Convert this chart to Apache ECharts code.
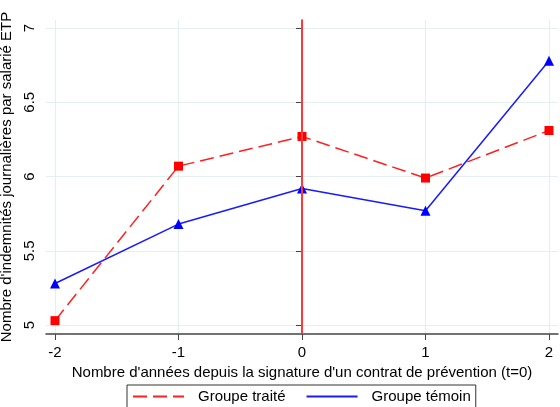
<!DOCTYPE html>
<html>
<head>
<meta charset="utf-8">
<script src="https://cdn.jsdelivr.net/npm/echarts@6/dist/echarts.min.js"></script>
<style>
  html, body { margin: 0; padding: 0; background: #fff; }
  #chart { width: 560px; height: 407px; }
</style>
</head>
<body>
<div id="chart"></div>
<script>
// Years relative to the signature of the prevention contract (t=0)
const years = [-2, -1, 0, 1, 2];
// Daily allowances per FTE employee
const treated = [5.03, 6.07, 6.27, 5.99, 6.31];
const control = [5.28, 5.68, 5.92, 5.77, 6.78];
// Axis ticks
const xTicks = [-2, -1, 0, 1, 2];
const yTicks = [5, 5.5, 6, 6.5, 7];
const eventYear = 0;

const FONT = '"Liberation Sans", Arial, sans-serif';
const gridColor = '#e6eff0';
const axisColor = '#444';

const chart = echarts.init(document.getElementById('chart'), null, { renderer: 'canvas' });

chart.setOption({
  animation: false,
  textStyle: { fontFamily: FONT },
  grid: { left: 46, right: 2, top: 20, bottom: 73, containLabel: false, outerBoundsMode: 'none' },
  xAxis: {
    type: 'value',
    min: -2.073,
    max: 2.073,
    name: "Nombre d'années depuis la signature d'un contrat de prévention (t=0)",
    nameLocation: 'middle',
    nameGap: 24,
    nameTextStyle: { color: '#000', fontSize: 15, fontFamily: FONT },
    axisLine: { show: true, onZero: false, lineStyle: { color: axisColor, width: 1.5 } },
    axisTick: { show: true, length: 6, customValues: xTicks, lineStyle: { color: axisColor } },
    axisLabel: { customValues: xTicks, color: '#000', fontSize: 15, margin: 11, fontFamily: FONT },
    splitLine: { show: true, lineStyle: { color: gridColor, width: 1.2 } }
  },
  yAxis: {
    type: 'value',
    min: 4.94,
    max: 7.054,
    name: "Nombre d'indemnités journalières par salarié ETP",
    nameLocation: 'middle',
    nameRotate: 90,
    nameGap: 26,
    nameTextStyle: { color: '#000', fontSize: 15, fontFamily: FONT },
    axisLine: { show: true, lineStyle: { color: axisColor, width: 1.5 } },
    axisTick: { show: true, length: 6, customValues: yTicks, lineStyle: { color: axisColor } },
    axisLabel: {
      customValues: yTicks, rotate: 90, color: '#000', fontSize: 15, margin: 9, fontFamily: FONT,
      formatter: v => String(v)
    },
    splitLine: { show: true, lineStyle: { color: gridColor, width: 1.2 } }
  },
  legend: {
    left: 127,
    top: 385,
    padding: [4, 5, 4, 5],
    itemWidth: 51,
    itemHeight: 12,
    itemGap: 20,
    borderColor: '#333',
    borderWidth: 1,
    borderRadius: 0,
    itemStyle: { opacity: 0 },
    textStyle: { color: '#000', fontSize: 15, fontFamily: FONT, padding: [0, 0, 0, 9] },
    data: ['Groupe traité', 'Groupe témoin']
  },
  series: [
    {
      name: 'Groupe traité',
      type: 'line',
      data: years.map((x, i) => [x, treated[i]]),
      symbol: 'rect',
      symbolSize: 9,
      itemStyle: { color: '#ff0000' },
      lineStyle: { color: '#ff2020', width: 1.5, type: [14, 6] },
      z: 3,
      markLine: {
        silent: true,
        symbol: 'none',
        label: { show: false },
        lineStyle: { color: '#ff3838', width: 2, type: 'solid', opacity: 1 },
        emphasis: { disabled: true },
        data: [{ xAxis: eventYear }]
      }
    },
    {
      name: 'Groupe témoin',
      type: 'line',
      data: years.map((x, i) => [x, control[i]]),
      symbol: 'triangle',
      symbolSize: 10,
      itemStyle: { color: '#0000ff' },
      lineStyle: { color: '#1a1aff', width: 1.5, type: 'solid' },
      z: 4
    }
  ]
});
</script>
</body>
</html>
